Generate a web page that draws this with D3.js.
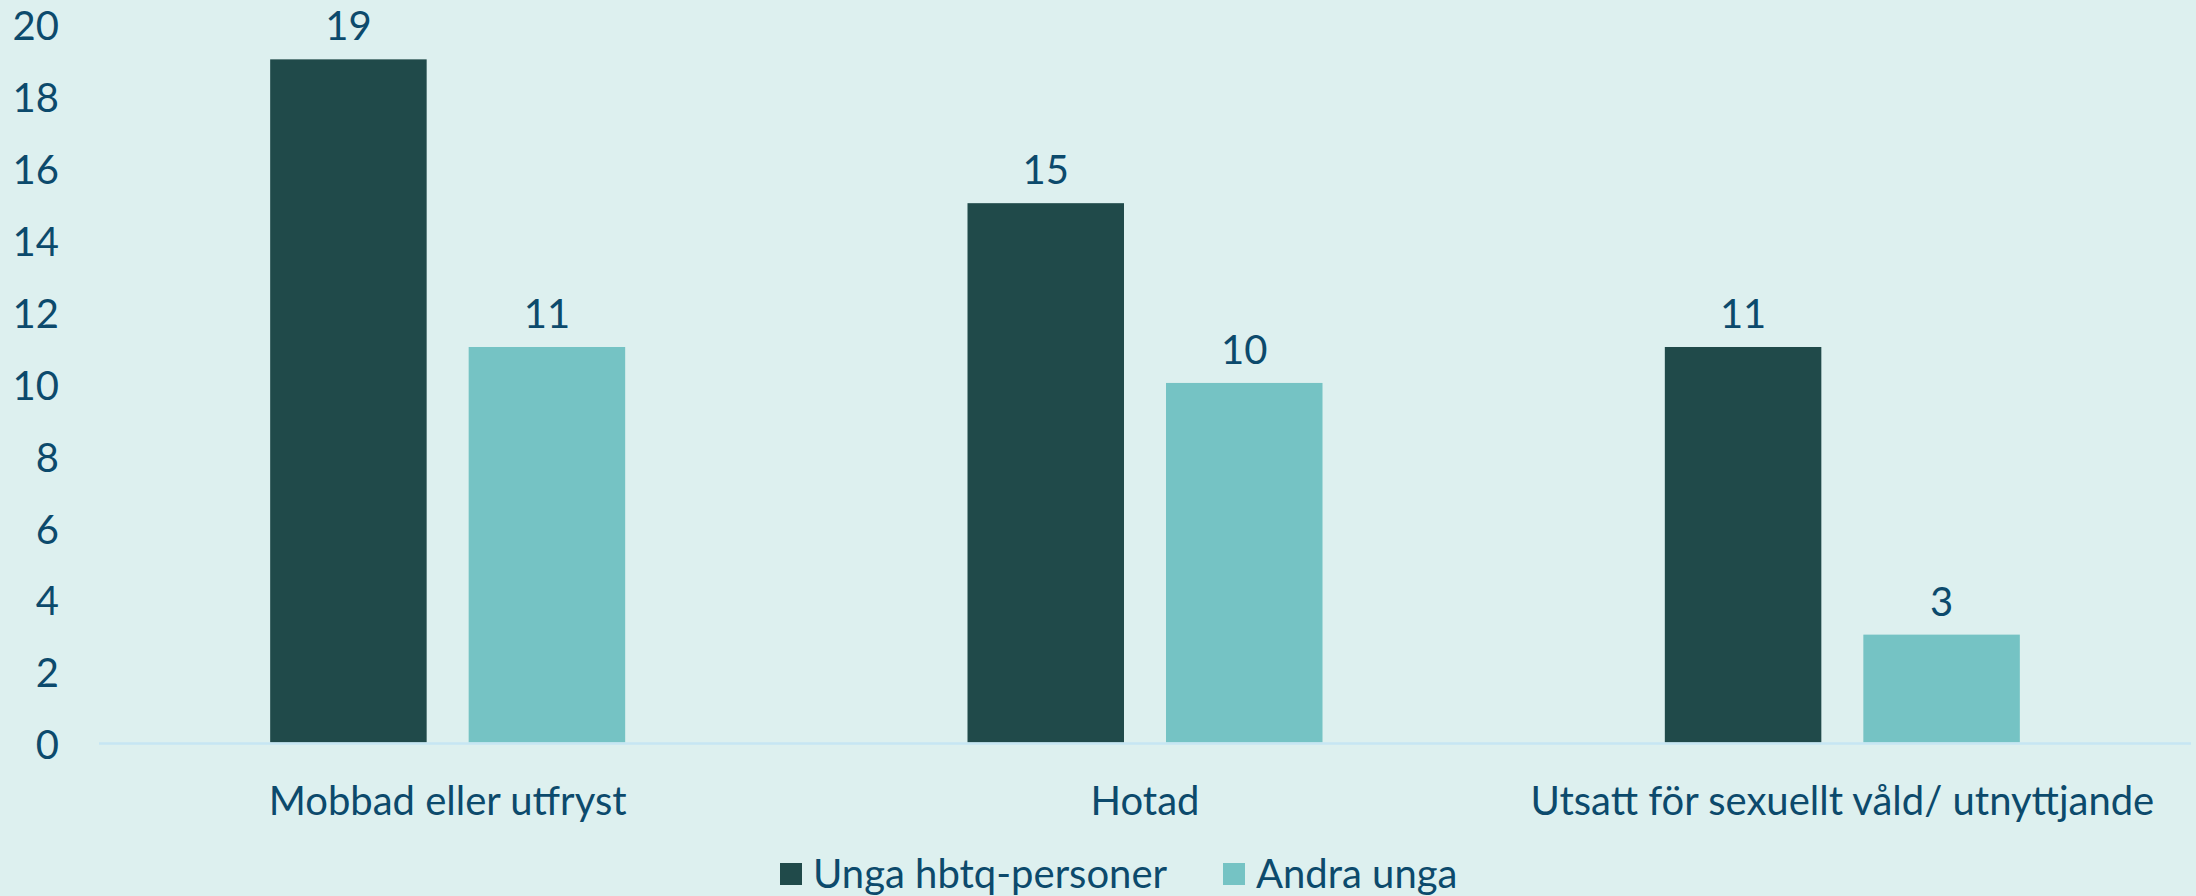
<!DOCTYPE html>
<html>
<head>
<meta charset="utf-8">
<script src="https://cdn.jsdelivr.net/npm/d3@7"></script>
<style>
  html, body { margin: 0; padding: 0; background: #ddf0ef; }
  svg { display: block; }
  text { font-family: Lato, "Open Sans", sans-serif; fill: #0c4a6c; }
</style>
</head>
<body>
<svg id="chart" width="2196" height="896"></svg>
<script>
const categories = ["Mobbad eller utfryst", "Hotad", "Utsatt för sexuellt våld/ utnyttjande"];
const seriesNames = ["Unga hbtq-personer", "Andra unga"];
const hbtqValues = [19, 15, 11];
const otherValues = [11, 10, 3];
const yTicks = [0, 2, 4, 6, 8, 10, 12, 14, 16, 18, 20];
const colors = ["#204a4a", "#75c3c4"];

const W = 2196, H = 896;
const margin = { left: 99, right: 5, top: 23.4, bottom: 154 };
const svg = d3.select("#chart");

const x0 = d3.scaleBand().domain(categories).range([margin.left, W - margin.right]).padding(0);
const x1 = d3.scaleBand().domain(seriesNames).range([-177.5, 177.5]).paddingInner(0.2116).paddingOuter(0);
const y = d3.scaleLinear().domain([0, 20]).range([742.5, margin.top]);

const fs = 40;

// y tick labels
svg.append("g").selectAll("text").data(yTicks).join("text")
  .attr("x", 59).attr("y", d => y(d)).attr("dy", "0.42em")
  .attr("text-anchor", "end").attr("font-size", fs)
  .text(d => d);

const data = categories.map((c, i) => ({ cat: c, vals: [hbtqValues[i], otherValues[i]] }));

const groups = svg.append("g").selectAll("g").data(data).join("g")
  .attr("transform", d => `translate(${x0(d.cat) + x0.bandwidth() / 2},0)`);

groups.selectAll("rect").data(d => d.vals.map((v, j) => ({ v, s: seriesNames[j], j }))).join("rect")
  .attr("x", d => x1(d.s)).attr("width", x1.bandwidth())
  .attr("y", d => y(d.v)).attr("height", d => y(0) - y(d.v))
  .attr("fill", d => colors[d.j]);

groups.selectAll("text.val").data(d => d.vals.map((v, j) => ({ v, s: seriesNames[j], j }))).join("text")
  .attr("class", "val")
  .attr("x", d => x1(d.s) + x1.bandwidth() / 2).attr("y", d => y(d.v) - 19)
  .attr("text-anchor", "middle").attr("font-size", fs)
  .text(d => d.v);

// axis line
svg.append("line").attr("x1", margin.left).attr("x2", W - margin.right)
  .attr("y1", y(0) + 1).attr("y2", y(0) + 1)
  .attr("stroke", "#c6e6f3").attr("stroke-width", 2.5);

// category labels
svg.append("g").selectAll("text").data(categories).join("text")
  .attr("x", d => x0(d) + x0.bandwidth() / 2).attr("y", 801).attr("dy", "0.35em")
  .attr("text-anchor", "middle").attr("font-size", fs)
  .text(d => d);

// legend
const legendX = [780, 1223];
const lg = svg.append("g").selectAll("g").data(seriesNames).join("g")
  .attr("transform", (d, i) => `translate(${legendX[i]},863)`);
lg.append("rect").attr("width", 22).attr("height", 22).attr("fill", (d, i) => colors[i]);
lg.append("text").attr("x", 33).attr("y", 11).attr("dy", "0.35em")
  .attr("font-size", fs).text(d => d);
</script>
</body>
</html>
